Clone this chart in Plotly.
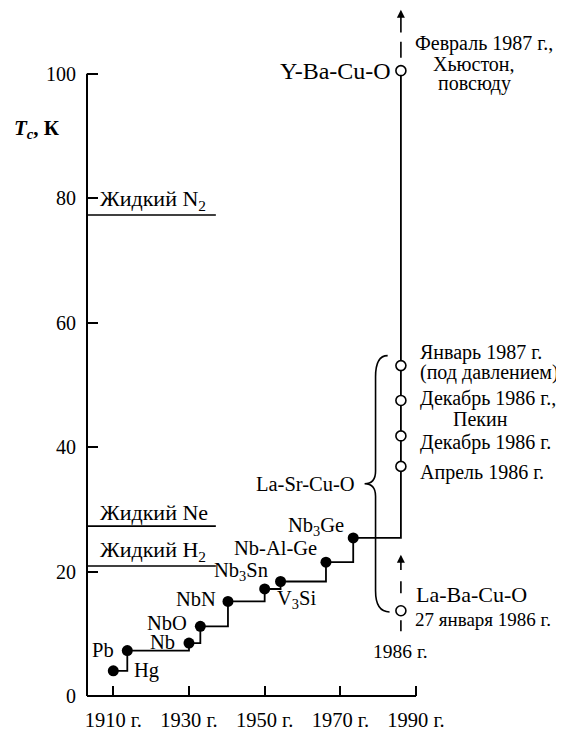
import plotly.graph_objects as go

# ---- data ----
materials = ["Hg", "Pb", "Nb", "NbO", "NbN", "V<sub>3</sub>Si", "Nb<sub>3</sub>Sn", "Nb-Al-Ge", "Nb<sub>3</sub>Ge"]
years = [1910.0, 1913.7, 1930.0, 1933.0, 1940.3, 1950.0, 1954.2, 1966.2, 1973.4]
tc = [4.05, 7.3, 8.5, 11.2, 15.2, 17.2, 18.4, 21.5, 25.4]

cuprate_year = 1986
yba_tc = 100.5
yba_note = ["Февраль 1987 г.,", "Хьюстон,", "повсюду"]
lasr_tc = [53.1, 47.5, 41.8, 36.9]
lasr_notes = [["Январь 1987 г.", "(под давлением)"],
              ["Декабрь 1986 г.,", "Пекин"],
              ["Декабрь 1986 г."],
              ["Апрель 1986 г."]]
laba_tc = 13.7

liquids = ["Жидкий N<sub>2</sub>", "Жидкий Ne", "Жидкий H<sub>2</sub>"]
liquid_tc = [77.3, 27.3, 20.9]
liquid_end = 1937.1

xticks = [1910, 1930, 1950, 1970, 1990]
xticktext = ["1910 г.", "1930 г.", "1950 г.", "1970 г.", "1990 г."]
yticks = [0, 20, 40, 60, 80, 100]

X0, X1 = 1903.05, 2029.1
Y0, Y1 = 0, 110.57
FONT = "Liberation Serif"

fig = go.Figure()

# liquid lines
for name, t in zip(liquids, liquid_tc):
    fig.add_trace(go.Scatter(x=[X0, liquid_end], y=[t, t], mode="lines",
                             line=dict(color="black", width=1.6), hoverinfo="skip"))

# step line of record Tc
fig.add_trace(go.Scatter(x=years + [cuprate_year], y=tc + [yba_tc], mode="lines",
                         line=dict(color="black", width=1.8, shape="hv"), hoverinfo="skip"))

# dashed segments
fig.add_trace(go.Scatter(x=[cuprate_year, cuprate_year], y=[yba_tc, 106.4], mode="lines",
                         line=dict(color="black", width=1.6, dash="0px,13px,16px,9px"), hoverinfo="skip"))
fig.add_trace(go.Scatter(x=[cuprate_year, cuprate_year], y=[10.4, 20.0], mode="lines",
                         line=dict(color="black", width=1.6, dash="11px,27px,12px,10px"), hoverinfo="skip"))

# filled points
fig.add_trace(go.Scatter(x=years, y=tc, mode="markers",
                         marker=dict(color="black", size=11), hoverinfo="skip"))

# open points
fig.add_trace(go.Scatter(x=[cuprate_year] * (len(lasr_tc) + 2), y=[yba_tc] + lasr_tc + [laba_tc],
                         mode="markers",
                         marker=dict(color="white", size=10, line=dict(color="black", width=1.6)),
                         hoverinfo="skip"))

# curly brace
bt = lasr_tc[0] + 1.6
bb = laba_tc - 0.2
bm = (bt + bb) / 2
xv = cuprate_year - 6.7
xt = cuprate_year - 9.6
xe_t = cuprate_year - 3.5
xe_b = cuprate_year - 3.0
d1, d2 = 3.4, 2.0
path = (f"M {xe_t},{bt} Q {xv},{bt} {xv},{bt - d1} L {xv},{bm + d2} "
        f"Q {xv},{bm} {xt},{bm} Q {xv},{bm} {xv},{bm - d2} L {xv},{bb + d1} "
        f"Q {xv},{bb} {xe_b},{bb}")
shapes = [dict(type="path", xref="x", yref="y", path=path, line=dict(color="black", width=1.6))]

# axis lines (paper coords derived from data ranges)
shapes.append(dict(type="line", xref="paper", yref="paper", x0=0, x1=0, y0=0,
                   y1=(100 - Y0) / (Y1 - Y0), line=dict(color="black", width=2)))
shapes.append(dict(type="line", xref="paper", yref="paper", x0=0,
                   x1=(1990 - X0) / (X1 - X0), y0=0, y1=0, line=dict(color="black", width=2)))

ann = []
def A(text, x, y, xanchor="center", xshift=0, yshift=0, size=20, xref="x"):
    ann.append(dict(text=text, x=x, y=y, xref=xref, yref="y", xanchor=xanchor, yanchor="middle",
                    xshift=xshift, yshift=yshift, showarrow=False,
                    font=dict(family=FONT, size=size, color="black")))

# material labels
lab_pos = {
    "Hg": ("left", 19, 0),
    "Pb": ("right", -11, 1),
    "Nb": ("right", -12, 1),
    "NbO": ("right", -11, 3),
    "NbN": ("right", -10, 2.5),
    "V<sub>3</sub>Si": ("left", 10, -11),
    "Nb<sub>3</sub>Sn": ("right", -11, 10),
    "Nb-Al-Ge": ("right", -7, 14),
    "Nb<sub>3</sub>Ge": ("right", -7, 11),
}
for m, x, y in zip(materials, years, tc):
    xa, xs, ys = lab_pos[m]
    A(m, x, y, xanchor=xa, xshift=xs, yshift=ys, size=20.5)

# cuprate labels
A("Y-Ba-Cu-O", cuprate_year, yba_tc, xanchor="right", xshift=-8, size=24)
for line, xs, ys in zip(yba_note, [12, 30, 35], [27.5, 6.5, -12.5]):
    A(line, cuprate_year, yba_tc, xanchor="left", xshift=xs, yshift=ys)

note_offsets = [[(17, 13.5), (17, -6.5)],
                [(17, 1.5), (50, -18.5)],
                [(17, -6.7)],
                [(17, -6.3)]]
for lines, t, offs in zip(lasr_notes, lasr_tc, note_offsets):
    for line, (xs, ys) in zip(lines, offs):
        A(line, cuprate_year, t, xanchor="left", xshift=xs, yshift=ys)

A("La-Sr-Cu-O", xt, bm, xanchor="right", xshift=-8, size=20.5)
A("La-Ba-Cu-O", cuprate_year, laba_tc, xanchor="left", xshift=13, yshift=16, size=22)
A("27 января 1986 г.", cuprate_year, laba_tc, xanchor="left", xshift=12, yshift=-9, size=19)
A("1986 г.", cuprate_year, laba_tc, xanchor="center", yshift=-41, size=19.5)

# liquid labels
for name, t, ys in zip(liquids, liquid_tc, [15.5, 14, 14.5]):
    A(name, 0, t, xanchor="left", xshift=11, yshift=ys, size=22, xref="paper")

# axis title
ann.append(dict(text="<b><i>T<sub>c</sub></i>, К</b>", x=0, y=91.2, xref="paper", yref="y",
                xanchor="right", yanchor="middle", xshift=-25, showarrow=False,
                font=dict(family=FONT, size=21, color="black")))

# arrows
for (yt, yb) in [(110.3, 106.4), (22.7, 20.0)]:
    ann.append(dict(text="", x=cuprate_year, y=yt, ax=cuprate_year, ay=yb, xref="x", yref="y",
                    axref="x", ayref="y", showarrow=True, arrowhead=2, arrowsize=1,
                    arrowwidth=1.6, arrowcolor="black", standoff=0))

fig.update_layout(
    width=556, height=723, autosize=False,
    margin=dict(l=79, r=0, t=0, b=32.7),
    paper_bgcolor="white", plot_bgcolor="white",
    showlegend=False,
    shapes=shapes, annotations=ann,
    xaxis=dict(range=[X0, X1], tickvals=xticks, ticktext=xticktext, ticks="inside",
               ticklen=10, tickwidth=2, tickcolor="black", showgrid=False, zeroline=False,
               showline=False, tickfont=dict(family=FONT, size=20.5, color="black"),
               ticklabelstandoff=9, fixedrange=True),
    yaxis=dict(range=[Y0, Y1], tickvals=yticks, ticks="inside", ticklen=11, tickwidth=2,
               tickcolor="black", showgrid=False, zeroline=False, showline=False,
               tickfont=dict(family=FONT, size=20, color="black"), ticklabelstandoff=10,
               fixedrange=True),
)

fig.write_html("out.html")
